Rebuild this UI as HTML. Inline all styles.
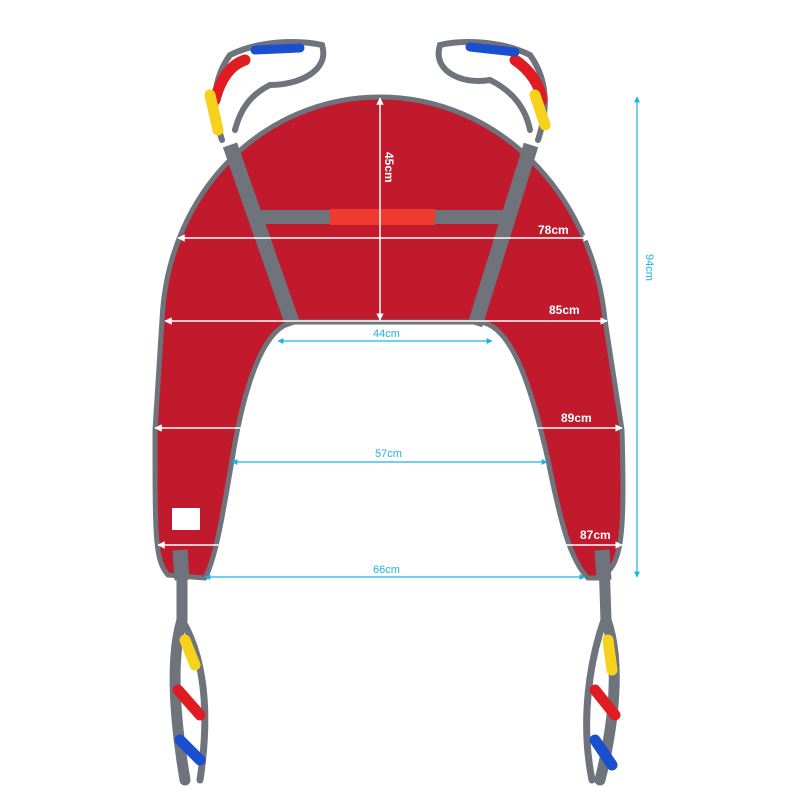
<!DOCTYPE html>
<html><head><meta charset="utf-8"><style>html,body{margin:0;padding:0;background:#fff}svg{display:block}</style></head><body>
<svg width="800" height="800" viewBox="0 0 800 800" xmlns="http://www.w3.org/2000/svg" font-family="Liberation Sans, sans-serif">
<defs>
<marker id="aw" viewBox="0 0 10 10" refX="9" refY="5" markerWidth="5" markerHeight="5" orient="auto-start-reverse"><path d="M0,0 L10,5 L0,10 Z" fill="#fff"/></marker>
<marker id="ac" viewBox="0 0 10 10" refX="9" refY="5" markerWidth="5" markerHeight="5" orient="auto-start-reverse"><path d="M0,0 L10,5 L0,10 Z" fill="#1fb3e0"/></marker>
</defs>
<g fill="none" stroke-linecap="round">
<path d="M222,140 C212,110 212,80 230,55 C260,40 300,40 322,45 C330,70 300,85 270,85 C250,95 240,110 235,130" stroke="#6e737c" stroke-width="6"/>
<path d="M215,100 C220,80 230,65 245,60" stroke="#e01b22" stroke-width="11"/>
<path d="M210,95 L218,130" stroke="#f7d21c" stroke-width="11"/>
<path d="M255,50 L300,48" stroke="#1a4fd0" stroke-width="9"/>
<path d="M538,140 C548,110 548,80 530,55 C500,40 460,40 440,45 C432,70 460,85 490,80 C510,90 525,105 530,130" stroke="#6e737c" stroke-width="6"/>
<path d="M515,60 C530,70 540,85 542,100" stroke="#e01b22" stroke-width="11"/>
<path d="M535,95 L545,125" stroke="#f7d21c" stroke-width="11"/>
<path d="M470,47 L515,52" stroke="#1a4fd0" stroke-width="9"/>
<path d="M182,560 L182,620 C170,660 175,720 185,780" stroke="#6e737c" stroke-width="11"/>
<path d="M182,620 C200,650 212,700 200,780" stroke="#6e737c" stroke-width="7"/>
<path d="M185,640 L195,665" stroke="#f7d21c" stroke-width="11"/>
<path d="M178,690 L200,715" stroke="#e01b22" stroke-width="11"/>
<path d="M180,740 L200,760" stroke="#1a4fd0" stroke-width="11"/>
<path d="M604,560 L606,620 C620,660 615,720 600,780" stroke="#6e737c" stroke-width="11"/>
<path d="M604,620 C590,660 580,720 592,780" stroke="#6e737c" stroke-width="7"/>
<path d="M608,640 L612,670" stroke="#f7d21c" stroke-width="11"/>
<path d="M595,690 L615,715" stroke="#e01b22" stroke-width="11"/>
<path d="M595,740 L612,765" stroke="#1a4fd0" stroke-width="11"/>
</g>
<path d="M168,575 C155,560 155,540 155,430 L162,320 C168,190 265,97 380,97 C495,97 592,190 605,320 L622,430 C625,540 622,565 600,578 L588,578 C570,560 560,520 548,460 C530,380 510,325 480,322 L295,322 C265,325 245,380 232,460 C222,520 215,560 205,578 Z" fill="#c01a2c" stroke="#6e737c" stroke-width="5" stroke-linejoin="round"/>
<g stroke="#6e737c" stroke-width="15" fill="none">
<path d="M230,145 L293,325"/>
<path d="M531,145 L475,325"/>
<path d="M258,217 L505,217" stroke-width="14"/>
<path d="M180,550 L182,580" stroke-width="15"/>
<path d="M602,550 L604,580" stroke-width="15"/>
</g>
<rect x="330" y="209" width="105" height="16" fill="#f03a30"/>
<rect x="172" y="508" width="28" height="22" fill="#fff"/>
<g stroke="#fff" stroke-width="1.5" marker-start="url(#aw)" marker-end="url(#aw)">
<line x1="380" y1="98" x2="380" y2="320"/>
<line x1="178" y1="238" x2="590" y2="238"/>
<line x1="165" y1="321" x2="607" y2="321"/>
<line x1="155" y1="428" x2="622" y2="428"/>
<line x1="158" y1="545" x2="622" y2="545"/>
</g>
<g fill="#fff" font-weight="bold" font-size="12">
<text x="538" y="234">78cm</text>
<text x="549" y="314">85cm</text>
<text x="561" y="422">89cm</text>
<text x="580" y="539">87cm</text>
<text transform="translate(385,152) rotate(90)">45cm</text>
</g>
<g stroke="#1fb3e0" stroke-width="1.2" marker-start="url(#ac)" marker-end="url(#ac)">
<line x1="278" y1="341" x2="492" y2="341"/>
<line x1="232" y1="462" x2="547" y2="462"/>
<line x1="205" y1="577" x2="585" y2="577"/>
<line x1="637" y1="97" x2="637" y2="577"/>
</g>
<g fill="#1fb3e0" font-size="11">
<text x="373" y="337">44cm</text>
<text x="375" y="457">57cm</text>
<text x="373" y="573">66cm</text>
<text transform="translate(646,254) rotate(90)">94cm</text>
</g>
</svg>
</body></html>
